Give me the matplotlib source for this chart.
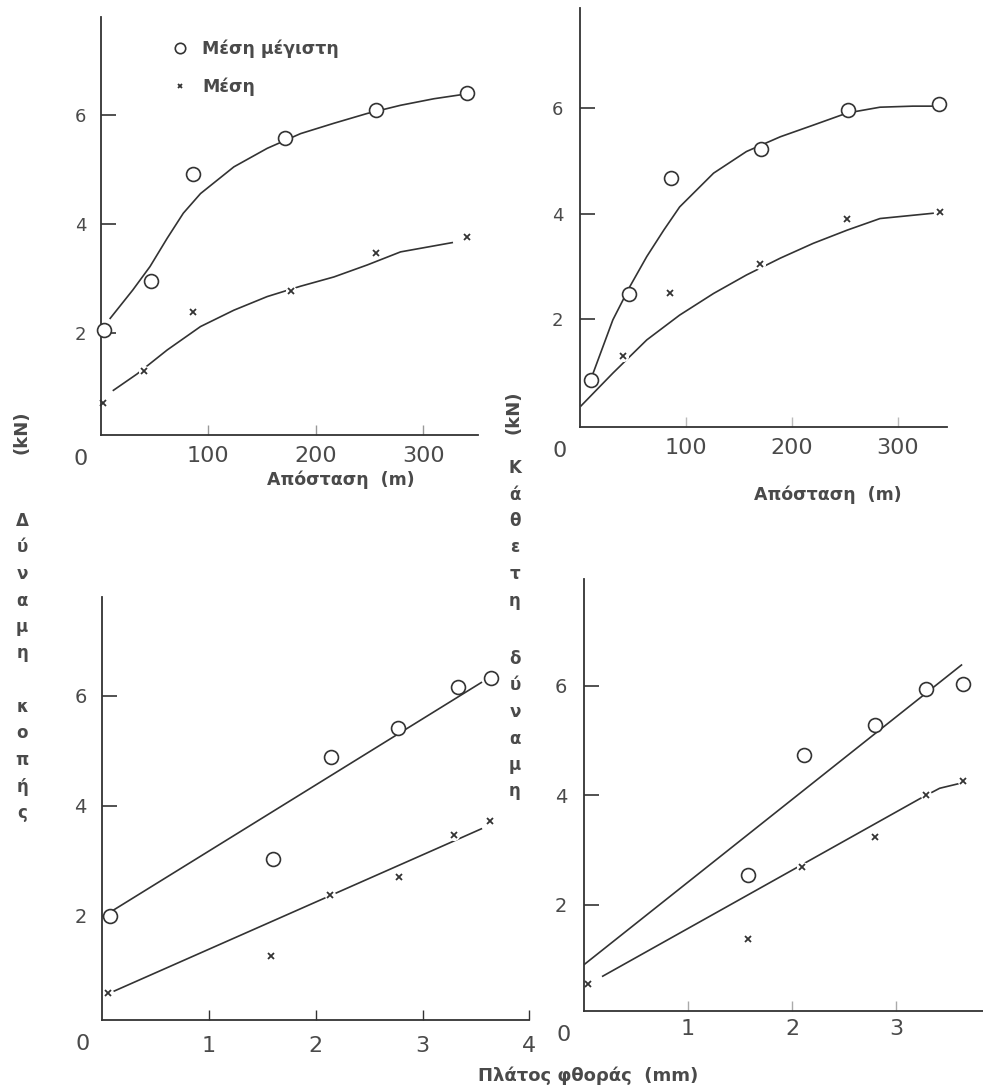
import numpy as np
import matplotlib.pyplot as plt

plt.rcParams['font.family'] = ['DejaVu Sans']

W, H = 983, 1089
INK = '#333333'
TXT = '#4a4a4a'

# ---- top left: distance (m) ----
dist_max_a = [3, 47, 86, 172, 256, 341]
force_max_a = [2.05, 2.95, 4.92, 5.58, 6.09, 6.40]
dist_mean_a = [2, 40, 86, 177, 256, 341]
force_mean_a = [0.72, 1.30, 2.38, 2.77, 3.47, 3.76]
fit_max_a_x = [9, 30, 46, 62, 77, 93, 124, 155, 186, 217, 248, 279, 310, 334]
fit_max_a_y = [2.27, 2.79, 3.22, 3.74, 4.20, 4.56, 5.05, 5.39, 5.66, 5.85, 6.03, 6.18, 6.30, 6.37]
fit_mean_a_x = [12, 34, 62, 93, 124, 155, 186, 217, 248, 279, 327]
fit_mean_a_y = [0.95, 1.25, 1.69, 2.12, 2.42, 2.67, 2.86, 3.03, 3.25, 3.49, 3.66]

# ---- top right: distance (m) ----
dist_max_b = [10, 46, 86, 171, 253, 339]
force_max_b = [0.85, 2.48, 4.67, 5.23, 5.97, 6.08]
dist_mean_b = [41, 85, 170, 252, 340]
force_mean_b = [1.30, 2.49, 3.04, 3.90, 4.04]
fit_max_b_x = [10, 31, 47, 63, 79, 94, 126, 157, 189, 220, 252, 283, 314, 336]
fit_max_b_y = [0.85, 1.99, 2.62, 3.19, 3.69, 4.13, 4.77, 5.18, 5.46, 5.68, 5.91, 6.02, 6.04, 6.04]
fit_mean_b_x = [1, 31, 63, 94, 126, 157, 189, 220, 252, 283, 333]
fit_mean_b_y = [0.36, 0.98, 1.61, 2.08, 2.49, 2.84, 3.16, 3.44, 3.69, 3.91, 4.01]

# ---- bottom left: wear width (mm) ----
wear_max_c = [0.07, 1.60, 2.14, 2.77, 3.33, 3.64]
force_max_c = [2.00, 3.04, 4.88, 5.41, 6.15, 6.33]
wear_mean_c = [0.05, 1.58, 2.13, 2.78, 3.29, 3.63]
force_mean_c = [0.59, 1.27, 2.38, 2.70, 3.47, 3.73]
fit_max_c_x = [0.07, 3.55]
fit_max_c_y = [2.06, 6.24]
fit_mean_c_x = [0.10, 3.19, 3.55]
fit_mean_c_y = [0.62, 3.27, 3.58]

# ---- bottom right: wear width (mm) ----
wear_max_d = [1.58, 2.12, 2.80, 3.29, 3.64]
force_max_d = [2.55, 4.74, 5.29, 5.94, 6.04]
wear_mean_d = [0.04, 1.58, 2.10, 2.80, 3.29, 3.64]
force_mean_d = [0.56, 1.37, 2.70, 3.24, 4.00, 4.26]
fit_max_d_x = [0.0, 3.63]
fit_max_d_y = [0.91, 6.38]
fit_mean_d_x = [0.18, 3.23, 3.42, 3.66]
fit_mean_d_y = [0.70, 3.94, 4.13, 4.24]

y_ticks = [2, 4, 6]
dist_ticks = [100, 200, 300]


def rect(left, right, top, bottom):
    return [left / W, 1 - bottom / H, (right - left) / W, (bottom - top) / H]


def panel(ax, cx, cy, kx, ky, ux, uy, lx, ly, xticks, xlim, ylim, xpad, ypad,
          xsize, ysize, xtick_col):
    ax.plot(ux, uy, color=INK, lw=1.2, zorder=2)
    ax.plot(lx, ly, color=INK, lw=1.2, zorder=2)
    # white halo so the fitted lines break around the crosses
    ax.plot(kx, ky, 'o', ms=7, color='white', zorder=2.2)
    h_max, = ax.plot(cx, cy, 'o', ms=10, mfc='white', mec=INK, mew=1.2,
                     ls='none', zorder=4, clip_on=False, label='Μέση μέγιστη')
    h_mean, = ax.plot(kx, ky, 'x', ms=4, color=INK, mew=1.3, ls='none',
                      zorder=4, clip_on=False, label='Μέση')
    ax.set_xlim(*xlim)
    ax.set_ylim(*ylim)
    ax.set_xticks(xticks)
    ax.set_yticks(y_ticks)
    for s in ['top', 'right']:
        ax.spines[s].set_visible(False)
    for s in ['left', 'bottom']:
        ax.spines[s].set_color(INK)
        ax.spines[s].set_linewidth(1.3)
    ax.tick_params(axis='y', direction='in', length=11, width=1.2, color=INK,
                   pad=ypad, labelsize=ysize, labelcolor=TXT)
    ax.tick_params(axis='x', direction='in', length=7, width=1.0, color=xtick_col,
                   pad=xpad, labelsize=xsize, labelcolor=TXT)
    ax.set_facecolor('none')
    return h_max, h_mean


fig = plt.figure(figsize=(W / 100, H / 100), dpi=100)

ax1 = fig.add_axes(rect(100.5, 478, 17, 435))
h1, h2 = panel(ax1, dist_max_a, force_max_a, dist_mean_a, force_mean_a,
               fit_max_a_x, fit_max_a_y, fit_mean_a_x, fit_mean_a_y,
               dist_ticks, (0, 351), (0.13, 7.8), 8, 10, 16, 13, '#999999')

ax2 = fig.add_axes(rect(580, 946.8, 8, 426.7))
panel(ax2, dist_max_b, force_max_b, dist_mean_b, force_mean_b,
      fit_max_b_x, fit_max_b_y, fit_mean_b_x, fit_mean_b_y,
      dist_ticks, (0, 346), (-0.035, 7.9), 8, 12, 16, 13, '#bbbbbb')

ax3 = fig.add_axes(rect(102.2, 529.4, 596.7, 1019.7))
panel(ax3, wear_max_c, force_max_c, wear_mean_c, force_mean_c,
      fit_max_c_x, fit_max_c_y, fit_mean_c_x, fit_mean_c_y,
      [1, 2, 3, 4], (0, 4.0), (0.11, 7.8), 12, 11, 16, 14, INK)

ax4 = fig.add_axes(rect(584, 983, 579, 1010.7))
panel(ax4, wear_max_d, force_max_d, wear_mean_d, force_mean_d,
      fit_max_d_x, fit_max_d_y, fit_mean_d_x, fit_mean_d_y,
      [1, 2, 3], (0, 3.837), (0.07, 7.95), 6, 12, 16, 14, '#aaaaaa')

# origin labels
for ax in [ax1, ax2, ax3, ax4]:
    ax.annotate('0', xy=(0, ax.get_ylim()[0]), xytext=(-20, -24),
                textcoords='offset pixels', ha='center', va='center',
                fontsize=16, color=TXT, annotation_clip=False)

# legend in the first panel
ax1.legend(handles=[h1, h2], loc='upper left',
           bbox_to_anchor=(171 / W, 1 - 40 / H), bbox_transform=fig.transFigure,
           frameon=False, borderpad=0, borderaxespad=0, handlelength=1.0,
           handletextpad=0.8, labelspacing=1.1, markerscale=0.75,
           prop={'size': 12.5, 'weight': 'bold'}, labelcolor=TXT)

# axis titles
fig.text(341 / W, 1 - 480 / H, 'Απόσταση  (m)', ha='center', va='center',
         fontsize=12.5, color=TXT, fontweight='bold')
fig.text(828 / W, 1 - 495 / H, 'Απόσταση  (m)', ha='center', va='center',
         fontsize=12.5, color=TXT, fontweight='bold')
fig.text(588 / W, 1 - 1076 / H, 'Πλάτος φθοράς  (mm)', ha='center', va='center',
         fontsize=13, color=TXT, fontweight='bold')

# vertical y titles, one letter per line
fig.text(21 / W, 1 - 432 / H, '(kN)', rotation=90, ha='center', va='center',
         fontsize=13, color=TXT, fontweight='bold')
fig.text(513 / W, 1 - 412 / H, '(kN)', rotation=90, ha='center', va='center',
         fontsize=13, color=TXT, fontweight='bold')

pitch = 26.5
for word, x0, y0 in [('Δύναμη', 22, 521), ('κοπής', 22, 707),
                     ('Κάθετη', 515, 468), ('δύναμη', 515, 659)]:
    for i, ch in enumerate(word):
        fig.text(x0 / W, 1 - (y0 + i * pitch) / H, ch, ha='center', va='center',
                 fontsize=12, color=TXT, fontweight='bold')

fig.savefig('out.png', dpi=100, facecolor='white')
